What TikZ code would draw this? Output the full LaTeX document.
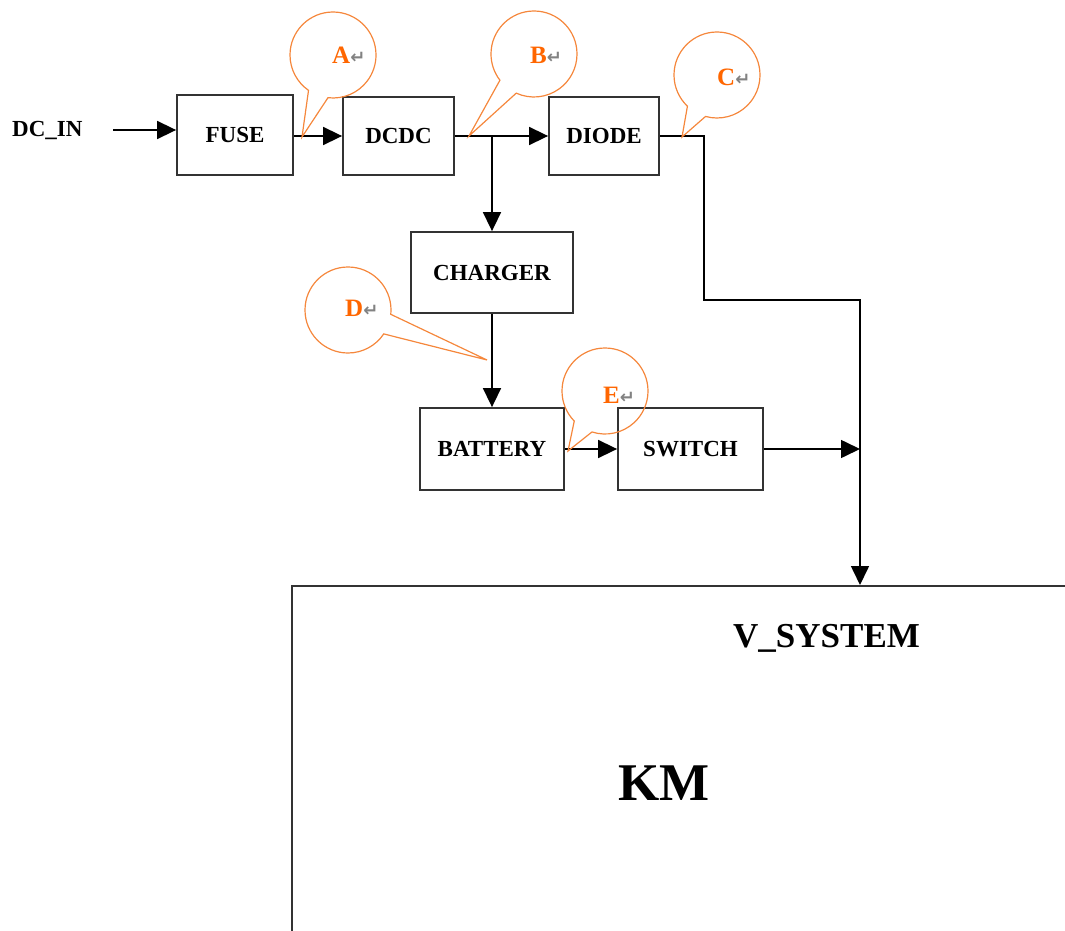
\documentclass[tikz,border=0pt]{standalone}
\usepackage{fontspec}
\setmainfont{Liberation Serif}
\newfontfamily\symfont{DejaVu Sans}
\usetikzlibrary{shapes.callouts, arrows.meta}
\definecolor{tagorange}{RGB}{255,102,0}
\definecolor{tagline}{RGB}{245,135,60}
\definecolor{markgray}{RGB}{130,130,130}
\newcommand{\retmark}{{\symfont\fontsize{18}{18}\selectfont\color{markgray}↵}}
\tikzstyle{block} = [rectangle, draw=black!80, line width=1.8pt, font=\fontsize{23}{27}\selectfont\bfseries, text centered, inner sep=0pt]
\tikzstyle{arrow} = [line width=1.6pt, -{Triangle[length=19pt,width=18pt]}]
\tikzstyle{bubble} = [ellipse callout, draw=tagline, line width=1.2pt, minimum width=86pt, minimum height=86pt, callout pointer arc=28, inner sep=0pt]
\tikzstyle{tagtext} = [text=tagorange, font=\fontsize{25}{28}\selectfont\bfseries, anchor=west, inner sep=0pt]

\begin{document}
\begin{tikzpicture}[x=1pt, y=-1pt]

    \useasboundingbox (0,0) rectangle (1065,931);
    \clip (0,0) rectangle (1065,931);

    % Nodes
    \node (dcin) [anchor=base west, inner sep=0pt, font=\fontsize{23}{27}\selectfont\bfseries] at (12,137) {DC\_IN};
    \node (fuse) [block, minimum width=116pt, minimum height=80pt] at (235,135) {FUSE};
    \node (dcdc) [block, minimum width=111pt, minimum height=78pt] at (398.5,136) {DCDC};
    \node (diode) [block, minimum width=110pt, minimum height=78pt] at (604,136) {DIODE};
    \node (charger) [block, minimum width=162pt, minimum height=81pt] at (492,272.5) {CHARGER};
    \node (battery) [block, minimum width=144pt, minimum height=82pt] at (492,449) {BATTERY};
    \node (switch) [block, minimum width=145pt, minimum height=82pt] at (690.5,449) {SWITCH};
    \node (km) [draw=black!80, line width=1.8pt, anchor=north west, minimum width=900pt, minimum height=500pt] at (291,585) {};
    \node (vsys) [anchor=base west, inner sep=0pt, font=\fontsize{35}{40}\selectfont\bfseries] at (733,647) {V\_SYSTEM};
    \node (kmtext) [anchor=base west, inner sep=0pt, font=\fontsize{53}{60}\selectfont\bfseries] at (618,800) {KM};

    \coordinate (instart) at (113,130);
    \coordinate (split) at (492,136);
    \coordinate (vbus) at (860,300);

    % Arrows
    \draw [arrow] (instart) -- (instart -| fuse.west);
    \draw [arrow] (fuse.east |- dcdc) -- (dcdc.west);
    \draw [arrow] (dcdc.east) -- (diode.west);
    \draw [arrow] (split) -- (charger.north);
    \draw [arrow] (charger.south) -- (battery.north);
    \draw [arrow] (battery.east) -- (switch.west);
    \draw [arrow] (switch.east) -- (switch.east -| vbus);
    \draw [arrow] (diode.east) -- ++(44,0) |- (vbus) -- (vbus |- km.north);

    % Callouts
    \coordinate (tipA) at (302,137);
    \coordinate (tipB) at (469,136);
    \coordinate (tipC) at (682,137);
    \coordinate (tipD) at (487,360);
    \coordinate (tipE) at (568,451);
    \node (callA) [bubble, callout absolute pointer=(tipA)] at (333,55) {};
    \node (callB) [bubble, callout absolute pointer=(tipB)] at (534,54) {};
    \node (callC) [bubble, callout absolute pointer=(tipC)] at (717,75) {};
    \node (callD) [bubble, callout absolute pointer=(tipD)] at (348,310) {};
    \node (callE) [bubble, callout absolute pointer=(tipE)] at (605,391) {};
    \node (labA) [tagtext] at (332,55) {A\retmark};
    \node (labB) [tagtext] at (530,55) {B\retmark};
    \node (labC) [tagtext] at (717,77) {C\retmark};
    \node (labD) [tagtext] at (345,308) {D\retmark};
    \node (labE) [tagtext] at (603,395) {E\retmark};

\end{tikzpicture}
\end{document}
